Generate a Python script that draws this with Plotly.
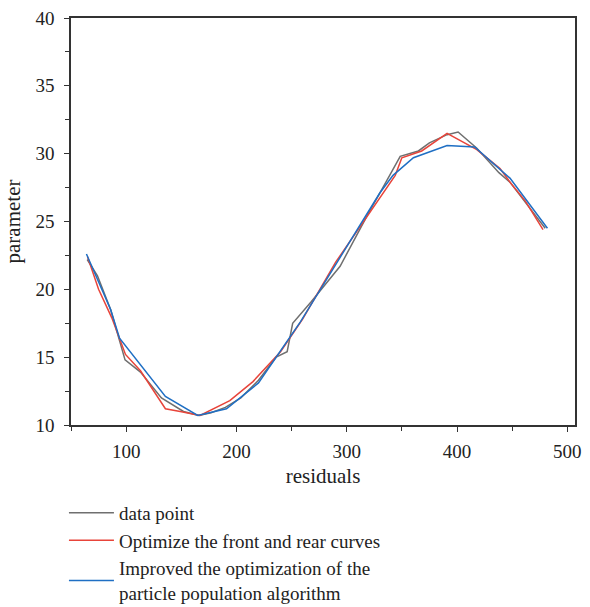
import plotly.graph_objects as go

# data point (gray)
data_x = [64.7, 74, 86, 99, 113, 132, 152, 166, 177, 190, 204, 220, 236, 246, 251, 268, 294, 303, 321, 330, 348.5, 365, 375, 391, 401, 418, 438, 448, 460, 470, 480]
data_y = [22.2, 21.0, 18.5, 14.8, 13.9, 12.0, 11.0, 10.7, 10.9, 11.3, 12.0, 13.3, 15.0, 15.4, 17.5, 19.1, 21.7, 23.1, 25.8, 27.1, 29.8, 30.2, 30.8, 31.4, 31.6, 30.4, 28.6, 27.9, 26.6, 25.6, 24.5]

# optimize the front and rear curves (red)
front_x = [65, 75, 87, 99.4, 113, 135.6, 149, 167, 194, 215, 240, 260, 290, 320, 344, 350, 368, 391, 418, 439, 449, 462, 478]
front_y = [22.4, 20.0, 17.9, 15.2, 14.0, 11.2, 11.0, 10.7, 11.8, 13.2, 15.4, 17.8, 22.0, 25.6, 28.4, 29.7, 30.2, 31.5, 30.3, 28.9, 27.8, 26.5, 24.4]

# improved particle population algorithm (blue)
improved_x = [64, 86, 94, 135.6, 164.9, 191, 220, 258, 330, 342, 360.5, 391, 416, 448, 482]
improved_y = [22.6, 18.5, 16.4, 12.1, 10.7, 11.2, 13.1, 17.6, 27.1, 28.4, 29.7, 30.6, 30.5, 28.2, 24.5]

x_ticks = [100, 200, 300, 400, 500]
x_minor = [50, 150, 250, 350, 450]
y_ticks = [10, 15, 20, 25, 30, 35, 40]
y_minor = [12.5, 17.5, 22.5, 27.5, 32.5, 37.5]

names = ["data point", "Optimize the front and rear curves",
         "Improved the optimization of the<br>particle population algorithm"]
colors = ["#6f6f6f", "#e8443a", "#1f6fc4"]

FONT = "Liberation Serif"
TXT = "#222222"

fig = go.Figure()
for xs, ys, nm, c in zip([data_x, front_x, improved_x], [data_y, front_y, improved_y], names, colors):
    fig.add_trace(go.Scatter(x=xs, y=ys, mode="lines", name=nm,
                             line=dict(color=c, width=1.5)))

axis_common = dict(showgrid=False, zeroline=False, showline=True, linecolor="#333333",
                   linewidth=1.5, mirror=True, ticks="outside", ticklen=5, tickwidth=1.2,
                   tickcolor="#333333", automargin=False,
                   tickfont=dict(family=FONT, size=19, color=TXT))

fig.update_xaxes(range=[50, 507], tickvals=x_ticks, ticklabelstandoff=3,
                 minor=dict(tickvals=x_minor, ticks="outside", ticklen=4, tickcolor="#333333"),
                 title=dict(text="residuals", font=dict(family=FONT, size=21, color=TXT), standoff=8),
                 **axis_common)
fig.update_yaxes(range=[10, 40], tickvals=y_ticks, ticklabelstandoff=6,
                 minor=dict(tickvals=y_minor, ticks="outside", ticklen=4, tickcolor="#333333"),
                 title=dict(text="parameter", font=dict(family=FONT, size=21, color=TXT), standoff=9),
                 **axis_common)

fig.update_layout(
    width=590, height=607,
    margin=dict(l=71, r=15, t=18, b=182, autoexpand=False),
    paper_bgcolor="white", plot_bgcolor="white",
    font=dict(family=FONT, size=19, color=TXT),
    legend=dict(x=-0.014, y=-0.169, xanchor="left", yanchor="top",
                font=dict(family=FONT, size=19, color=TXT),
                itemwidth=45, bgcolor="rgba(0,0,0,0)"),
    showlegend=True,
)

fig.write_html("out.html", config={"displayModeBar": False},
               post_script="document.body.style.margin='0';document.body.style.overflow='hidden';")
